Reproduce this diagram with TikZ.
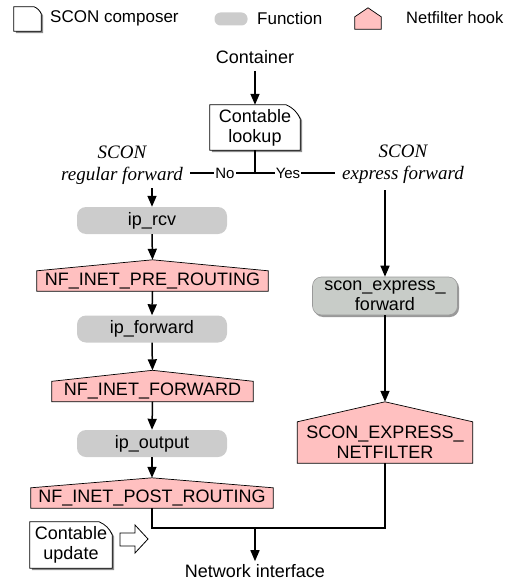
\documentclass[tikz,border=0pt]{standalone}
\usepackage{fontspec}
\setmainfont{Liberation Sans}
\newfontfamily\serifit{Liberation Serif}
\usetikzlibrary{arrows.meta,shadows,backgrounds}
\definecolor{hookpink}{HTML}{FFC0C0}
\definecolor{funcgray}{HTML}{CCCCCC}
\definecolor{sefgray}{HTML}{C8CCC8}
\tikzset{
  base/.style={font=\fontsize{18}{20}\selectfont, inner sep=0pt, align=center},
  legend/.style={font=\fontsize{17}{20}\selectfont, inner sep=0pt, anchor=west},
  small/.style={font=\fontsize{15}{17}\selectfont, inner sep=1pt, fill=white},
  func/.style={base, fill=funcgray, rounded corners=9pt, minimum width=150pt, minimum height=27pt},
  hookbox/.style={base, minimum height=20pt},
  comp/.style={base},
  conn/.style={line width=1.5pt, -{Triangle[length=11pt,width=9pt]}},
  plain/.style={line width=1.5pt},
  lbl/.style={font=\serifit\itshape\fontsize{19}{22}\selectfont, align=center, inner sep=0pt},
  hookfill/.style={fill=hookpink, draw=black, line width=0.7pt},
  docfill/.style={fill=white, draw=black, line width=0.8pt,
     drop shadow={shadow xshift=2pt, shadow yshift=-2pt, opacity=0.45, fill=black}},
}
\newcommand\hookshape[2]{%
  \path[hookfill] (#1.south west) -- (#1.north west) -- ([yshift=#2]#1.north)
     -- (#1.north east) -- (#1.south east) -- cycle;}
\newcommand\docshape[2]{%
  \path[docfill] (#1.south west) -- (#1.north west) -- ([xshift=-#2]#1.north east)
     to[bend left=20] ([yshift=-#2]#1.north east) -- (#1.south east) -- cycle;}
\begin{document}
\begin{tikzpicture}[x=1pt,y=-1pt]
\useasboundingbox (0,0) rectangle (511,583);

% legend
\node[base, minimum width=27pt, minimum height=24pt] (lgc) at (27.5,19) {};
\node[legend] (lgct) at (50,18) {SCON composer};
\node[base, fill=funcgray, rounded corners=6pt, minimum width=33pt, minimum height=13pt] (lgf) at (231,19) {};
\node[legend] (lgft) at (257,18) {Function};
\node[base, minimum width=26pt, minimum height=12pt] (lgh) at (368,23) {};
\node[legend, font=\fontsize{16.5}{20}\selectfont] (lght) at (406,18) {Netfilter hook};

% top
\node[base] (container) at (255,57) {Container};
\node[comp, minimum width=90pt, minimum height=45pt] (lookup) at (255,127.5) {Contable\\lookup};
\coordinate (br) at (255,173);
\coordinate (bl) at (190,173);
\coordinate (brr) at (335,173);
\node[lbl] (reg) at (122,165) {SCON\\regular forward};
\node[lbl] (exf) at (403,164) {SCON\\express forward};
\coordinate (regout) at (152,188);
\coordinate (exout) at (385,190);

% left column
\node[func] (rcv) at (152,220.5) {ip\_rcv};
\node[hookbox, minimum width=231pt] (pre) at (152.5,281) {NF\_INET\_PRE\_ROUTING};
\node[func] (fwd) at (152,329) {ip\_forward};
\node[hookbox, minimum width=201pt] (nff) at (152.5,391.5) {NF\_INET\_FORWARD};
\node[func] (out) at (152,443.5) {ip\_output};
\node[hookbox, minimum width=242pt] (post) at (152,498) {NF\_INET\_POST\_ROUTING};

% right column
\node[base, fill=sefgray, draw=gray!80, line width=0.6pt, rounded corners=9pt,
      minimum width=145pt, minimum height=38pt,
      drop shadow={shadow xshift=1.5pt, shadow yshift=-2pt, opacity=0.4, fill=black}] (sef) at (385,296) {scon\_express\_\\forward};
\node[hookbox, minimum width=175pt, minimum height=41pt] (sxn) at (385,442.5) {SCON\_EXPRESS\_\\NETFILTER};

% bottom
\coordinate (m) at (255,528);
\node[base] (net) at (255,571) {Network interface};
\node[comp, minimum width=82pt, minimum height=46pt] (upd) at (71,545) {Contable\\update};

\coordinate (preTop) at ([yshift=11pt]pre.north);
\coordinate (nffTop) at ([yshift=11pt]nff.north);
\coordinate (postTop) at ([yshift=10pt]post.north);
\coordinate (sxnTop) at ([yshift=20pt]sxn.north);

\begin{pgfonlayer}{background}
  \docshape{lgc}{7pt}
  \hookshape{lgh}{9pt}
  \docshape{lookup}{14pt}
  \docshape{upd}{13pt}
  \hookshape{pre}{11pt}
  \hookshape{nff}{11pt}
  \hookshape{post}{10pt}
  \hookshape{sxn}{20pt}
\end{pgfonlayer}

% connectors
\draw[conn] ([yshift=-7pt]container.south) -- (lookup.north);
\draw[plain] (lookup.south) -- (br);
\draw[plain] (bl) -- (brr);
\node[small] (no) at (225,173) {No};
\node[small] (yes) at (288,173) {Yes};
\draw[conn] (regout) -- (rcv.north);
\draw[conn] (rcv.south) -- (preTop);
\draw[conn] (pre.south) -- (fwd.north);
\draw[conn] (fwd.south) -- (nffTop);
\draw[conn] (nff.south) -- (out.north);
\draw[conn] (out.south) -- (postTop);
\draw[conn] (exout) -- (sef.north);
\draw[conn] (sef.south) -- (sxnTop);
\draw[plain] (post.south) |- (m) -| (sxn.south);
\draw[conn] (m) -- ([yshift=3pt]net.north);

% hollow arrow
\draw[line width=0.8pt, fill=white] (120,533) -- (135,533) -- (135,525) -- (148,539)
   -- (135,553) -- (135,546) -- (120,546) -- cycle;
\end{tikzpicture}
\end{document}
